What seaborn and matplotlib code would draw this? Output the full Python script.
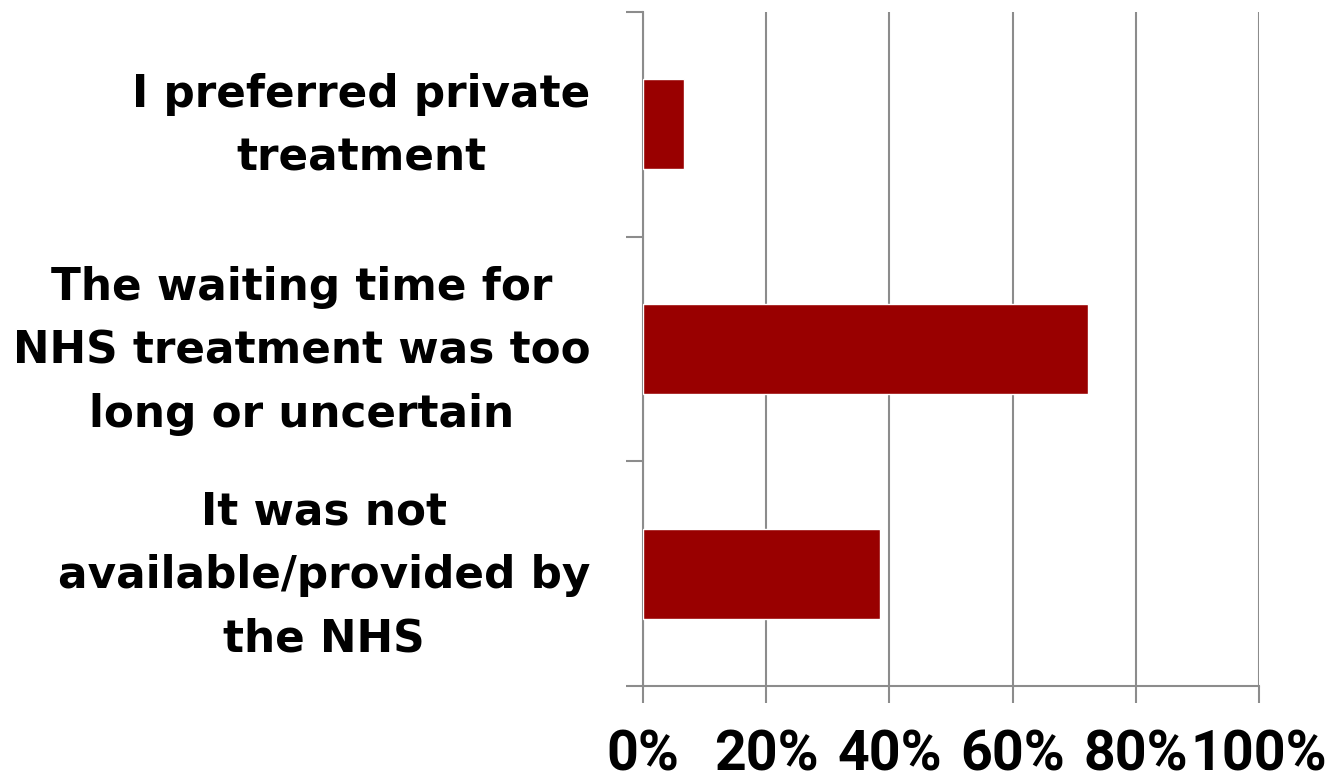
import numpy as np
import pandas as pd
import matplotlib
matplotlib.use("Agg")
import matplotlib.pyplot as plt
import seaborn as sns
from matplotlib.ticker import PercentFormatter, FixedLocator

reasons = [
    "I preferred private\ntreatment",
    "The waiting time for\nNHS treatment was too\nlong or uncertain",
    "It was not\navailable/provided by\nthe NHS",
]
shares = [0.066, 0.722, 0.385]

df = pd.DataFrame({"reason": reasons, "share": shares})

sns.set_style("white")
grey = "#8c8c8c"
plt.rcParams['font.family'] = ['DejaVu Sans']
plt.rcParams['text.color'] = 'black'
plt.rcParams['xtick.bottom'] = True
plt.rcParams['ytick.left'] = True

fig = plt.figure(figsize=(13.32, 7.81), dpi=100)
ax = fig.add_axes([0.4827, 0.1216, 0.4625, 0.863])

sns.barplot(data=df, x="share", y="reason", color="#990000", width=0.4,
            saturation=1, ax=ax, zorder=3)

ax.set_xlim(0, 1)
ax.set_ylim(2.5, -0.5)
ax.set_xticks(np.arange(0, 1.01, 0.2))
ax.xaxis.set_major_formatter(PercentFormatter(1.0, decimals=0))
ax.grid(axis="x", color=grey, linewidth=1.5, zorder=0)
ax.set_axisbelow(True)

# category boundaries get the tick marks, labels sit between them
# (nudged up a little so the text block centres on the bar)
ax.yaxis.set_major_locator(FixedLocator([-0.5, 0.5, 1.5, 2.5]))
ax.yaxis.set_minor_locator(FixedLocator([i - 0.058 for i in range(len(reasons))]))
ax.set_yticklabels([], minor=False)
ax.set_yticklabels(reasons, minor=True, fontsize=31.5, fontweight="bold",
                   multialignment="center", linespacing=1.6, color="black")
ax.tick_params(axis="y", which="major", length=12, width=1.5, color=grey,
               left=True, direction="out")
ax.tick_params(axis="y", which="minor", length=0, pad=38)
ax.tick_params(axis="x", which="major", length=12, width=1.5, color=grey,
               pad=19, labelsize=40, bottom=True, direction="out",
               labelcolor="black")
for t in ax.get_xticklabels():
    t.set_fontfamily(["Roboto", "DejaVu Sans"])
    t.set_fontweight("bold")

for s in ["top", "right"]:
    ax.spines[s].set_visible(False)
for s in ["left", "bottom"]:
    ax.spines[s].set_color(grey)
    ax.spines[s].set_linewidth(1.5)

ax.set_xlabel("")
ax.set_ylabel("")

plt.savefig("out.png", dpi=100)
